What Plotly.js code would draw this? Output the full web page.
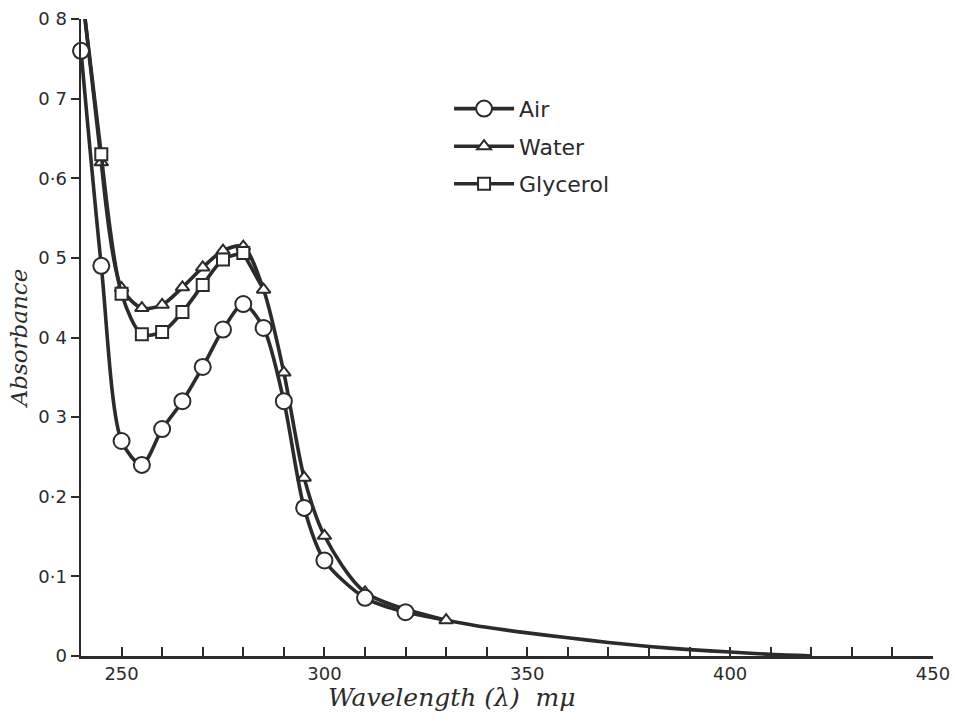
<!DOCTYPE html>
<html>
<head>
<meta charset="utf-8">
<script src="https://cdn.plot.ly/plotly-3.0.1.min.js"></script>
<style>html,body{margin:0;padding:0;background:#fff;}#chart{width:955px;height:722px;}</style>
</head>
<body>
<div id="chart"></div>
<script>
// Measured points (wavelength in mμ, absorbance)
const airX = [240, 245, 250, 255, 260, 265, 270, 275, 280, 285, 290, 295, 300, 310, 320];
const airY = [0.76, 0.49, 0.27, 0.24, 0.285, 0.32, 0.363, 0.41, 0.442, 0.412, 0.32, 0.186, 0.12, 0.073, 0.055];

const waterX = [245, 250, 255, 260, 265, 270, 275, 280, 285, 290, 295, 300, 310, 330];
const waterY = [0.62, 0.462, 0.437, 0.441, 0.463, 0.488, 0.509, 0.514, 0.46, 0.356, 0.224, 0.151, 0.08, 0.045];

const glyX = [245, 250, 255, 260, 265, 270, 275, 280];
const glyY = [0.63, 0.455, 0.404, 0.407, 0.432, 0.466, 0.498, 0.506];

// Unmarked parts of the drawn curves
const leadX = [241, 245];
const waterLeadY = [0.80, 0.62];
const glyLeadY = [0.80, 0.63];
const glyJoinX = [280, 285];
const glyJoinY = [0.506, 0.46];
const tailX = [320, 330, 340, 350, 360, 370, 380, 390, 400, 410, 420];
const tailY = [0.055, 0.045, 0.036, 0.029, 0.023, 0.017, 0.012, 0.008, 0.005, 0.002, 0.0];

const yTickVals = [0, 0.1, 0.2, 0.3, 0.4, 0.5, 0.6, 0.7, 0.8];
const yTickText = ['0', '0·1', '0·2', '0 3', '0 4', '0 5', '0·6', '0 7', '0 8'];

const xTitle = 'Wavelength (λ)  mμ';
const yTitle = 'Absorbance';

const ink = '#2b2b2b';
const lineStyle = {color: ink, width: 3.6, shape: 'spline', smoothing: 0.8};

function lineOnly(x, y) {
  return {x: x, y: y, mode: 'lines', line: lineStyle, showlegend: false, hoverinfo: 'skip', cliponaxis: true};
}
function series(name, x, y, symbol, size, rank) {
  return {
    x: x, y: y, name: name, mode: 'lines+markers', line: lineStyle,
    marker: {symbol: symbol, size: size, color: '#ffffff', line: {color: ink, width: 2}},
    legendrank: rank, legendgroup: name, cliponaxis: false
  };
}

const data = [
  lineOnly(leadX, waterLeadY),
  lineOnly(leadX, glyLeadY),
  lineOnly(glyJoinX, glyJoinY),
  lineOnly(tailX, tailY),
  series('Water', waterX, waterY, 'triangle-up', 12, 2),
  series('Glycerol', glyX, glyY, 'square', 12, 3),
  series('Air', airX, airY, 'circle', 16, 1)
];

const layout = {
  width: 955, height: 722,
  margin: {l: 81, r: 22, t: 19, b: 66},
  paper_bgcolor: '#ffffff', plot_bgcolor: '#ffffff',
  showlegend: true,
  legend: {
    x: 0.432, y: 0.892, xanchor: 'left', yanchor: 'top',
    font: {family: 'DejaVu Sans', size: 22, color: ink},
    tracegroupgap: 6, bgcolor: 'rgba(0,0,0,0)', itemwidth: 60
  },
  xaxis: {
    range: [240, 450], showgrid: false, zeroline: false,
    showline: true, linecolor: ink, linewidth: 2.5,
    ticks: 'inside', ticklen: 9, tickwidth: 2, tickcolor: ink,
    tick0: 0, dtick: 50,
    minor: {dtick: 10, ticks: 'inside', ticklen: 9, tickwidth: 2, tickcolor: ink},
    tickfont: {family: 'DejaVu Sans', size: 18, color: ink},
    automargin: false, fixedrange: true
  },
  yaxis: {
    range: [0, 0.8], showgrid: false, zeroline: false,
    showline: true, linecolor: ink, linewidth: 2.5,
    ticks: 'outside', ticklen: 8, tickwidth: 2, tickcolor: ink,
    tickvals: yTickVals, ticktext: yTickText,
    tickfont: {family: 'DejaVu Sans', size: 18, color: ink},
    title: {text: yTitle, standoff: 4,
      font: {family: 'DejaVu Serif', size: 23, color: ink, style: 'italic'}},
    automargin: false, fixedrange: true
  },
  annotations: [{
    text: xTitle, xref: 'paper', yref: 'paper', x: 0.435, y: 0,
    xanchor: 'center', yanchor: 'middle', yshift: -41, showarrow: false,
    font: {family: 'DejaVu Serif', size: 25, color: ink, style: 'italic'}
  }]
};

Plotly.newPlot('chart', data, layout, {displayModeBar: false, staticPlot: true});
</script>
</body>
</html>
